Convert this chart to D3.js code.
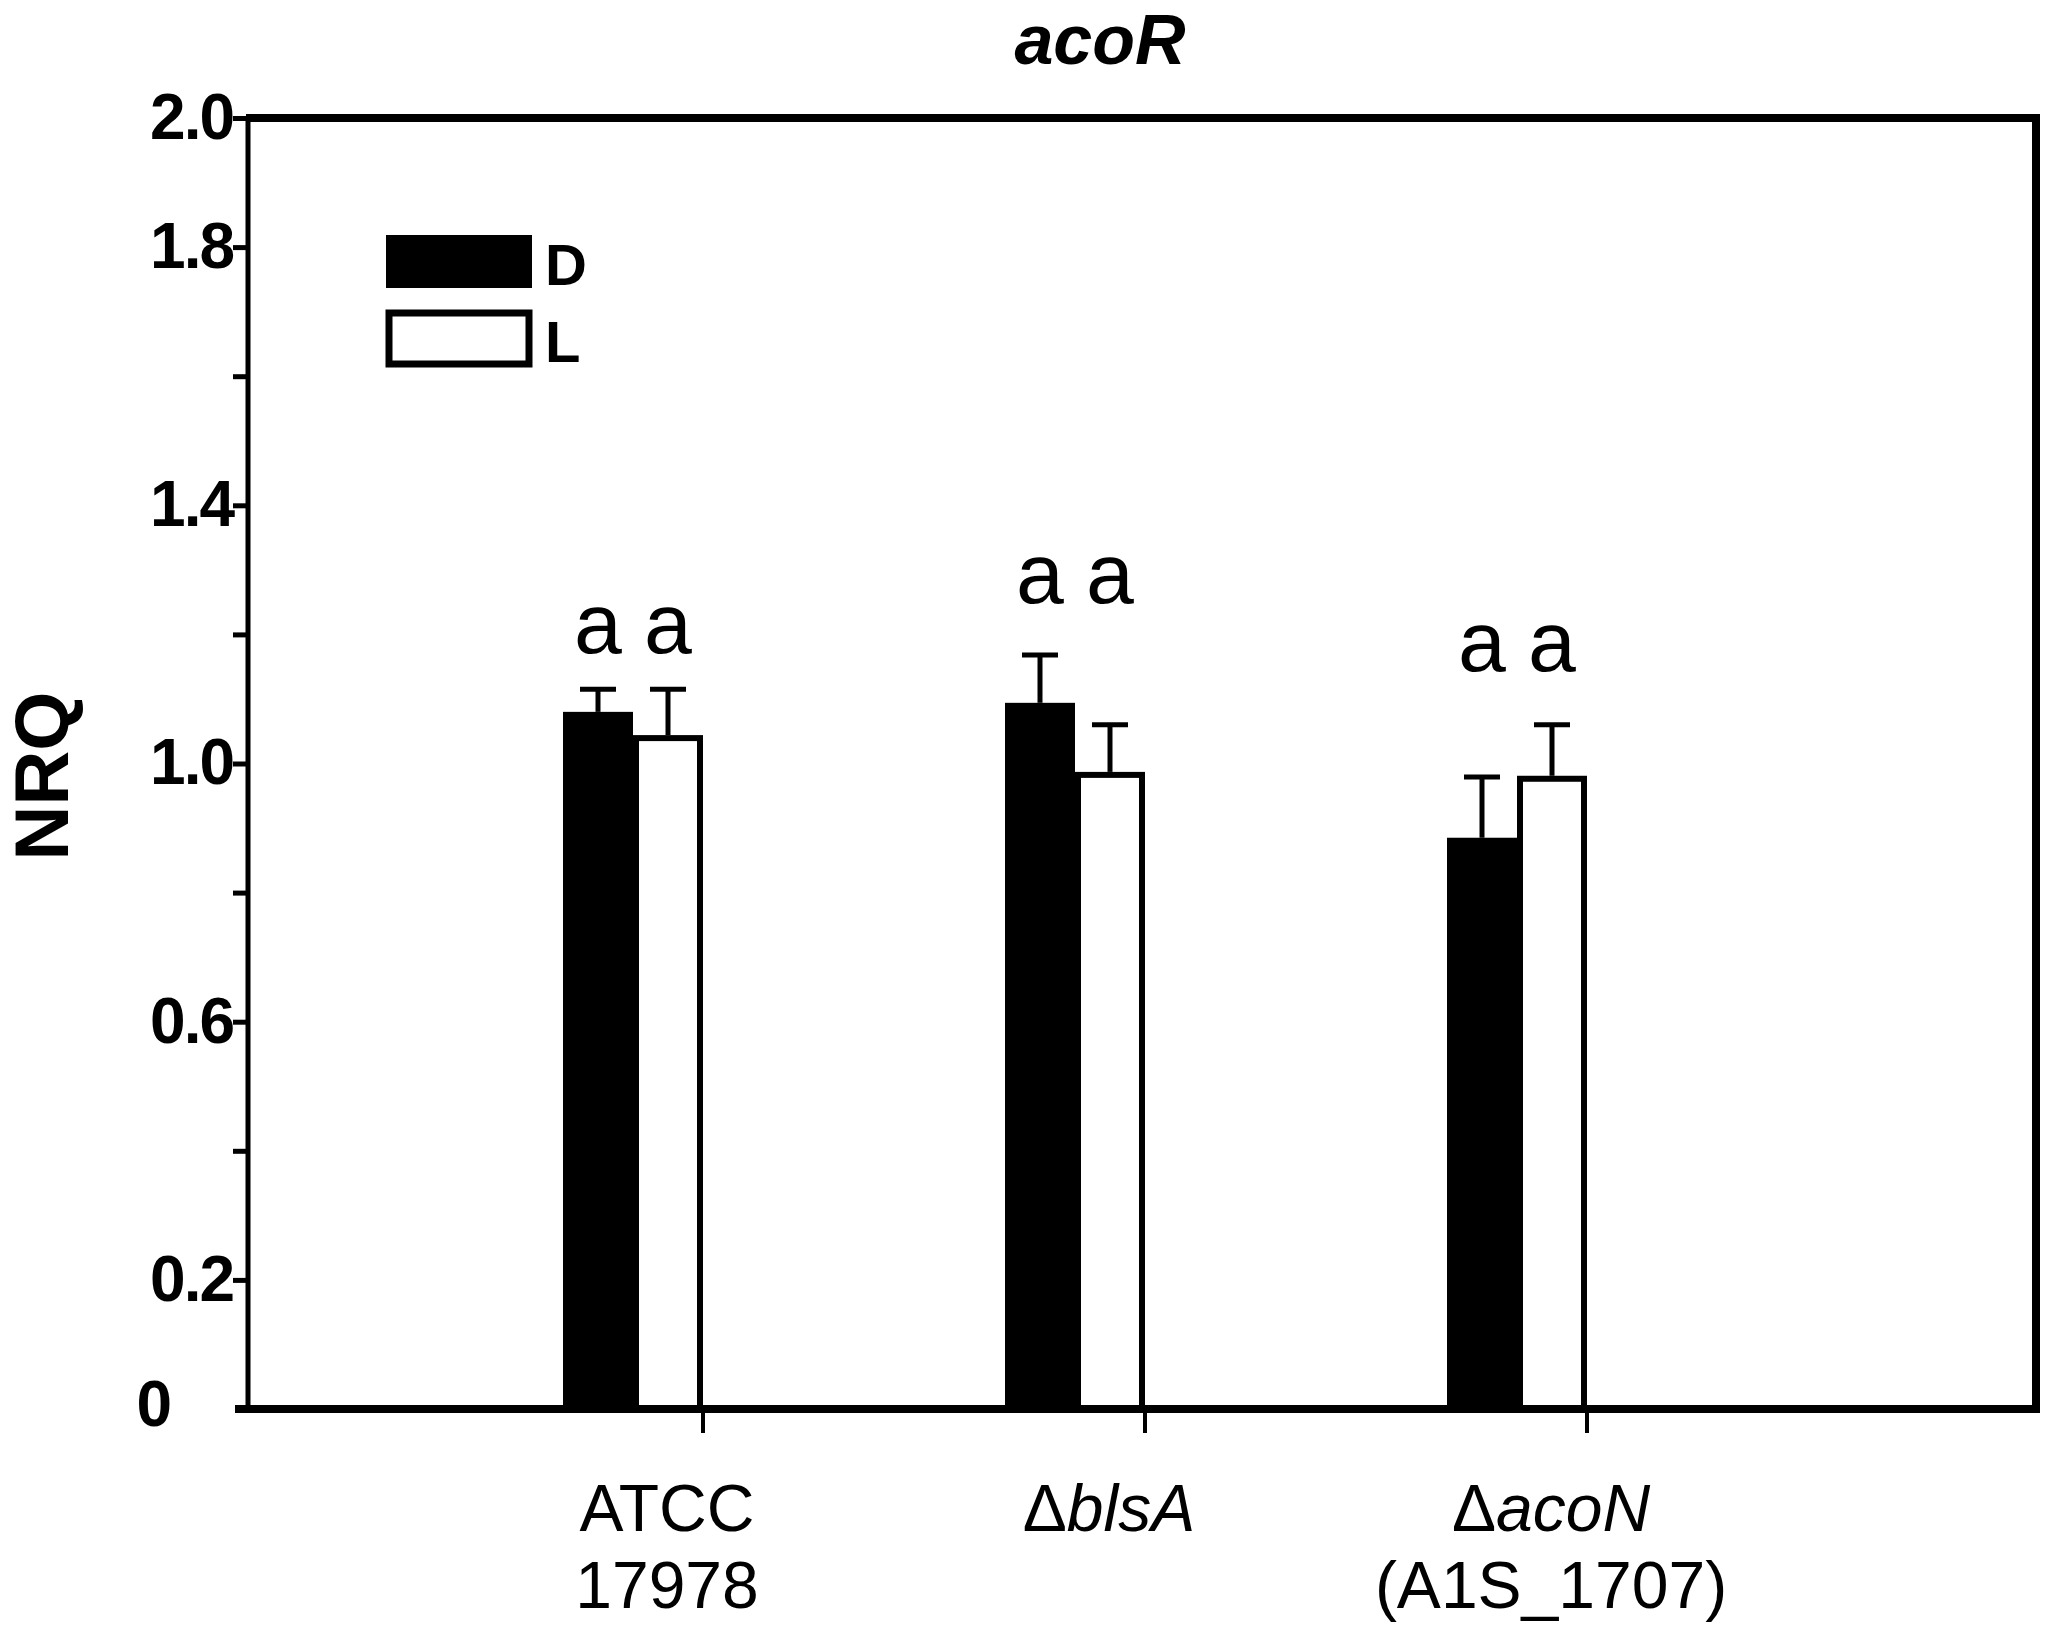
<!DOCTYPE html>
<html>
<head>
<meta charset="utf-8">
<script src="https://cdn.jsdelivr.net/npm/d3@7"></script>
<style>
  body { margin: 0; background: #fff; }
  text { font-family: "Liberation Sans", Arial, sans-serif; fill: #000; }
</style>
</head>
<body>
<script>
var w = 2047;
var h = 1631;

// data
var groups = ["ATCC 17978", "ΔblsA", "ΔacoN (A1S_1707)"];
var series = ["D", "L"];
var meanD = [1.080, 1.094, 0.885];
var meanL = [1.044, 0.987, 0.981];
var semD = [0.035, 0.074, 0.094];
var semL = [0.071, 0.073, 0.079];
var letterPos = [1.171, 1.249, 1.143];
var letters = ["a", "a"];
var yTicks = [0, 0.2, 0.4, 0.6, 0.8, 1.0, 1.2, 1.4, 1.6, 1.8, 2.0];
var yLabels = ["0", "0.2", "0.6", "1.0", "1.4", "1.8", "2.0"];
// group labels, each line a list of [text, italic]
var groupLines = [
  [[["ATCC", false]], [["17978", false]]],
  [[["Δ", false], ["blsA", true]]],
  [[["Δ", false], ["acoN", true]], [["(A1S_1707)", false]]]
];

var plotLeft = 248, plotRight = 2036, plotTop = 118, plotBottom = 1409;

var svg = d3.select("body").append("svg")
  .attr("width", w)
  .attr("height", h);

var y = d3.scaleLinear().domain([0, 2]).range([plotBottom, plotTop]);
var x = d3.scaleBand().domain(groups).range([416, 1742]);
var sub = d3.scaleBand().domain(series).range([-74, 66]);

function center(g) { return x(g) + x.bandwidth() / 2; }

// build rows for the bars
var rows = [];
groups.forEach(function(g, i) {
  rows.push({group: g, s: "D", mean: meanD[i], sem: semD[i]});
  rows.push({group: g, s: "L", mean: meanL[i], sem: semL[i]});
});

// error bars (drawn below bars so the stem starts at the bar top)
var eb = svg.append("g").attr("stroke", "#000").attr("stroke-width", 5);
rows.forEach(function(d) {
  var cx = center(d.group) + sub(d.s) + sub.bandwidth() / 2;
  eb.append("line")
    .attr("x1", cx).attr("x2", cx)
    .attr("y1", y(d.mean)).attr("y2", y(d.mean + d.sem));
  eb.append("line")
    .attr("x1", cx - 18).attr("x2", cx + 18)
    .attr("y1", y(d.mean + d.sem)).attr("y2", y(d.mean + d.sem));
});

// bars
svg.append("g").selectAll("rect")
  .data(rows)
  .enter()
  .append("rect")
  .attr("x", function(d) {
    var x0 = center(d.group) + sub(d.s);
    return d.s == "D" ? x0 : x0 + 3;
  })
  .attr("y", function(d) { return d.s == "D" ? y(d.mean) : y(d.mean) + 3; })
  .attr("width", function(d) { return d.s == "D" ? sub.bandwidth() : sub.bandwidth() - 6; })
  .attr("height", function(d) { return d.s == "D" ? y(0) - y(d.mean) : y(0) - y(d.mean) - 3; })
  .attr("fill", function(d) { return d.s == "D" ? "#000" : "#fff"; })
  .attr("stroke", "#000")
  .attr("stroke-width", function(d) { return d.s == "D" ? 0 : 6; });

// significance letters
groups.forEach(function(g, i) {
  series.forEach(function(s, j) {
    svg.append("text")
      .attr("x", center(g) + sub(s) + sub.bandwidth() / 2)
      .attr("y", y(letterPos[i]))
      .attr("text-anchor", "middle")
      .style("font-size", "86px")
      .text(letters[j]);
  });
});

// frame
var frame = svg.append("g").attr("stroke", "#000").attr("fill", "none");
frame.append("line").attr("x1", plotLeft - 2).attr("x2", plotRight + 4)
  .attr("y1", plotTop).attr("y2", plotTop).attr("stroke-width", 8);
frame.append("line").attr("x1", plotRight).attr("x2", plotRight)
  .attr("y1", plotTop).attr("y2", plotBottom).attr("stroke-width", 8);
frame.append("line").attr("x1", plotLeft).attr("x2", plotLeft)
  .attr("y1", plotTop).attr("y2", plotBottom).attr("stroke-width", 5);
frame.append("line").attr("x1", 235).attr("x2", plotRight + 4)
  .attr("y1", plotBottom).attr("y2", plotBottom).attr("stroke-width", 8);

// y axis
var yAxis = svg.append("g")
  .attr("transform", "translate(" + plotLeft + ",0)")
  .call(d3.axisLeft(y)
    .tickValues(yTicks)
    .tickSize(15)
    .tickPadding(0)
    .tickFormat(function(d) {
      var s = d == 0 ? "0" : d3.format(".1f")(d);
      return yLabels.indexOf(s) >= 0 ? s : "";
    }));
yAxis.select(".domain").remove();
yAxis.selectAll(".tick line").attr("stroke", "#000").attr("stroke-width", 5);
yAxis.selectAll(".tick text")
  .attr("fill", "#000")
  .style("font-family", "'Liberation Sans', Arial, sans-serif")
  .style("font-weight", "bold")
  .style("font-size", "64px")
  .style("letter-spacing", "-2px")
  .attr("dy", "0.32em");
yAxis.selectAll(".tick").filter(function(d) { return d == 0; })
  .select("text").attr("x", -78).attr("dy", "0.25em");
yAxis.selectAll(".tick").filter(function(d) { return d == 0; })
  .select("line").remove();

// x ticks at the right edge of each group
svg.append("g").selectAll("line")
  .data(groups)
  .enter()
  .append("line")
  .attr("x1", function(d) { return center(d) + sub("L") + sub.bandwidth(); })
  .attr("x2", function(d) { return center(d) + sub("L") + sub.bandwidth(); })
  .attr("y1", plotBottom)
  .attr("y2", plotBottom + 24)
  .attr("stroke", "#000")
  .attr("stroke-width", 4);

// x labels
groups.forEach(function(g, i) {
  groupLines[i].forEach(function(line, k) {
    var t = svg.append("text")
      .attr("x", center(g) + 30)
      .attr("y", 1531 + k * 77)
      .attr("text-anchor", "middle")
      .style("font-size", "66px");
    line.forEach(function(part) {
      t.append("tspan")
        .style("font-style", part[1] ? "italic" : "normal")
        .text(part[0]);
    });
  });
});

// title
svg.append("text")
  .attr("x", 1100)
  .attr("y", 64)
  .attr("text-anchor", "middle")
  .style("font-size", "70px")
  .style("font-weight", "bold")
  .style("font-style", "italic")
  .text("acoR");

// y label
svg.append("text")
  .attr("transform", "rotate(-90)")
  .attr("x", -776)
  .attr("y", 68)
  .attr("text-anchor", "middle")
  .style("font-size", "76px")
  .style("font-weight", "bold")
  .text("NRQ");

// legend
var legend = svg.selectAll(".legend")
  .data(series)
  .enter().append("g")
  .attr("class", "legend")
  .attr("transform", function(d, i) { return "translate(0," + i * 77 + ")"; });

legend.append("rect")
  .attr("x", function(d) { return d == "D" ? 386 : 389; })
  .attr("y", function(d) { return d == "D" ? 235 : 236; })
  .attr("width", function(d) { return d == "D" ? 146 : 140; })
  .attr("height", function(d) { return d == "D" ? 53 : 51; })
  .attr("fill", function(d) { return d == "D" ? "#000" : "#fff"; })
  .attr("stroke", "#000")
  .attr("stroke-width", function(d) { return d == "D" ? 0 : 7; });

legend.append("text")
  .attr("x", 545)
  .attr("y", 285)
  .style("font-size", "58px")
  .style("font-weight", "bold")
  .text(function(d) { return d; });
</script>
</body>
</html>
